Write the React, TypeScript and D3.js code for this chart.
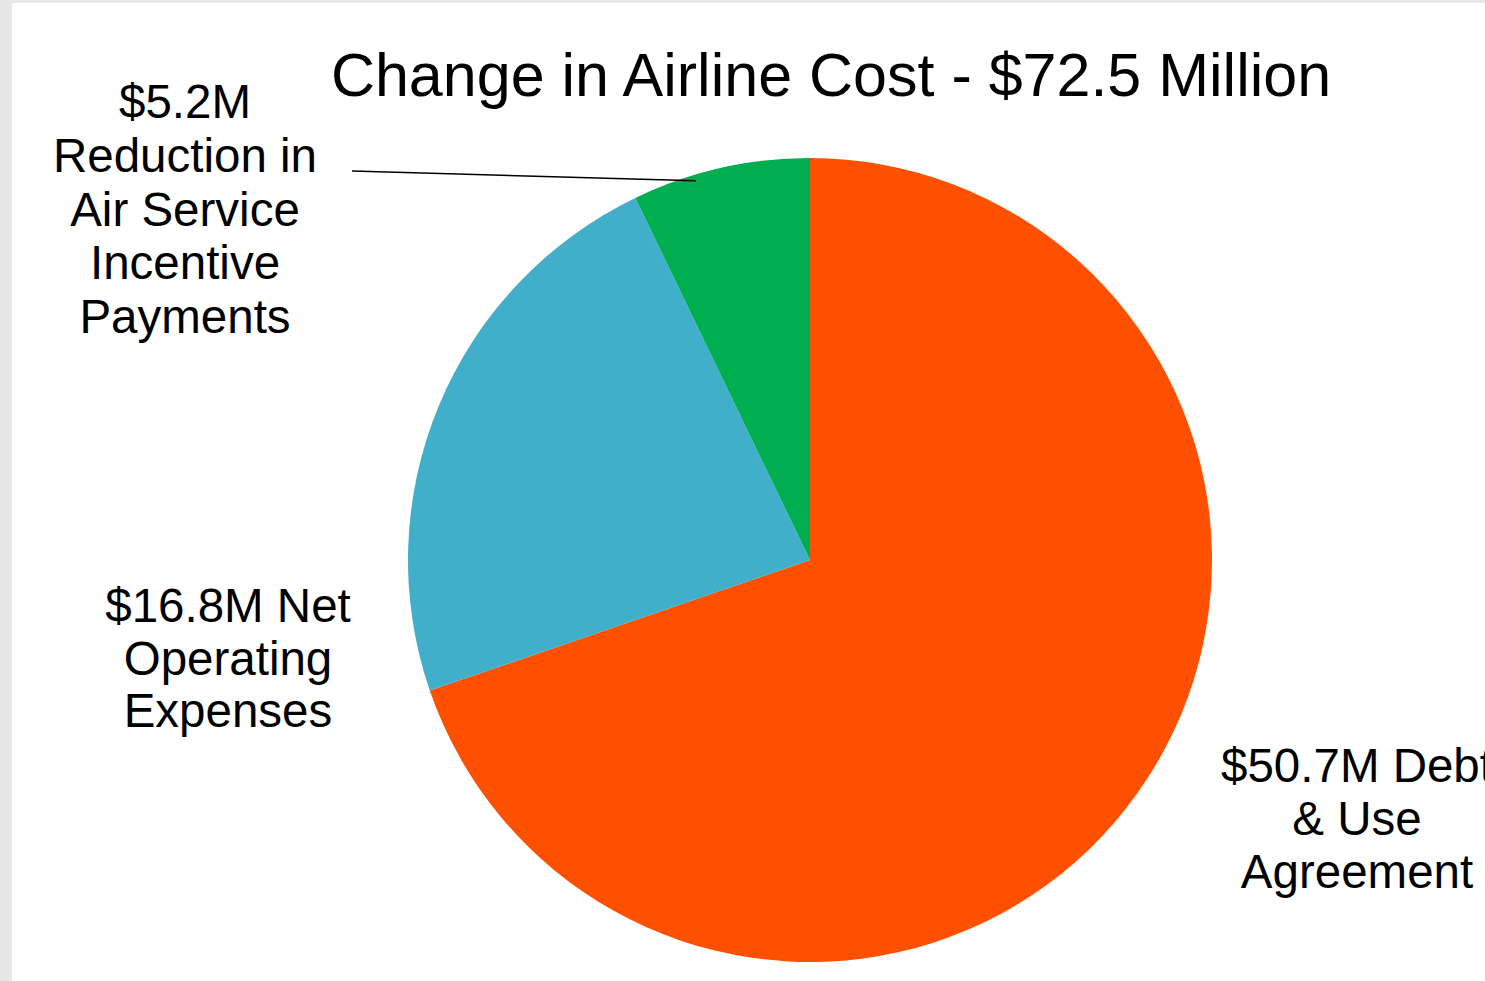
import React from "react";
import * as d3 from "d3";

const categories = ["Debt & Use Agreement", "Net Operating Expenses", "Reduction in Air Service Incentive Payments"];
const values = [50.7, 16.8, 5.2];
const colors = ["#FF5000", "#41AFC9", "#00AD4F"];
const title = "Change in Airline Cost - $72.5 Million";
const labelLines = [
  ["$50.7M Debt", "& Use", "Agreement"],
  ["$16.8M Net", "Operating", "Expenses"],
  ["$5.2M", "Reduction in", "Air Service", "Incentive", "Payments"],
];

const W = 1485;
const H = 981;
const cx = 810;
const cy = 560;
const R = 402;
const FONT = "'Liberation Sans', Arial, sans-serif";

const labelPos = [
  { x: 1357, y: 782, lh: 53 },
  { x: 228, y: 622, lh: 52.5 },
  { x: 185, y: 118, lh: 53.8 },
];

export default function App() {
  const pie = d3.pie<number>().sort(null).value((d) => d)(values);
  const arc = d3.arc<d3.PieArcDatum<number>>().innerRadius(0).outerRadius(R);

  const g = pie[2];
  const a = g.startAngle + 0.35 * (g.endAngle - g.startAngle);
  const lr = R * 0.985;
  const lx = Math.sin(a) * lr;
  const ly = -Math.cos(a) * lr;

  return (
    <svg
      width={W}
      height={H}
      style={{ position: "absolute", left: 0, top: 0, display: "block" }}
      fontFamily={FONT}
    >
      <rect x={0} y={0} width={W} height={H} fill="#E7E7E7" />
      <rect x={12} y={3} width={W - 12} height={H - 3} fill="#FFFFFF" />
      <text x={831} y={96} textAnchor="middle" fontSize={61} fill="#000">
        {title}
      </text>
      <g transform={`translate(${cx},${cy})`}>
        {pie.map((d, i) => (
          <path key={categories[i]} d={arc(d) || ""} fill={colors[i]} />
        ))}
      </g>
      <line
        x1={352}
        y1={171}
        x2={cx + lx}
        y2={cy + ly}
        stroke="#000"
        strokeWidth={1.6}
      />
      {labelLines.map((lines, i) => (
        <text
          key={i}
          x={labelPos[i].x}
          y={labelPos[i].y}
          textAnchor="middle"
          fontSize={47.5}
          fill="#000"
        >
          {lines.map((l, j) => (
            <tspan key={j} x={labelPos[i].x} y={labelPos[i].y + j * labelPos[i].lh}>
              {l}
            </tspan>
          ))}
        </text>
      ))}
    </svg>
  );
}
